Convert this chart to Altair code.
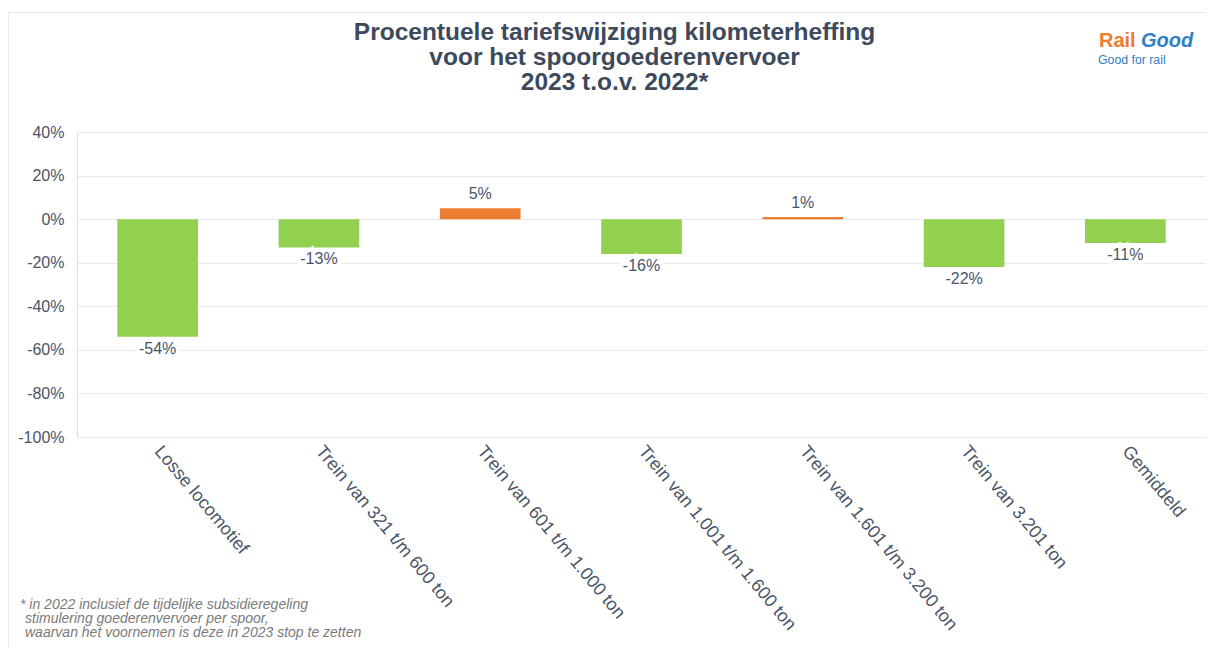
import altair as alt
import pandas as pd

categories = [
    "Losse locomotief",
    "Trein van 321 t/m 600 ton",
    "Trein van 601 t/m 1.000 ton",
    "Trein van 1.001 t/m 1.600 ton",
    "Trein van 1.601 t/m 3.200 ton",
    "Trein van 3.201 ton",
    "Gemiddeld",
]
values = [-54, -13, 5, -16, 1, -22, -11]
title_lines = [
    "Procentuele tariefswijziging kilometerheffing",
    "voor het spoorgoederenvervoer",
    "2023 t.o.v. 2022*",
]
footnote_first = ["* in 2022 inclusief de tijdelijke subsidieregeling"]
footnote_rest = [
    "stimulering goederenvervoer per spoor,",
    "waarvan het voornemen is deze in 2023 stop te zetten",
]
logo_a = "Rail"
logo_b = "Good"
logo_c = "Good for rail"
y_ticks = [-100, -80, -60, -40, -20, 0, 20, 40]

FONT = "Liberation Sans"
TXT = "#4a5568"
GREEN = "#92d050"
ORANGE = "#ed7d31"
BLUE = "#2f7fc8"
FRAME = "#e6e8ee"

df = pd.DataFrame({"cat": categories, "val": values})
df["label"] = [f"{v}%" for v in values]

x_enc = alt.X(
    "cat:N",
    sort=None,
    title=None,
    scale=alt.Scale(paddingInner=0.5, paddingOuter=0.25),
    axis=alt.Axis(
        labelAngle=50,
        labelAlign="left",
        labelBaseline="middle",
        labelPadding=11,
        labelFontSize=18,
        labelColor=TXT,
        labelFont=FONT,
        labelLimit=400,
        ticks=False,
        domain=False,
        grid=False,
    ),
)
y_enc = alt.Y(
    "val:Q",
    title=None,
    scale=alt.Scale(domain=[-100, 40], nice=False),
    axis=alt.Axis(
        values=y_ticks,
        labelExpr="datum.value + '%'",
        labelFontSize=16,
        labelColor=TXT,
        labelFont=FONT,
        labelPadding=13,
        ticks=False,
        domain=False,
        grid=True,
        gridColor="#e6e9ef",
        gridWidth=1,
    ),
)

base = alt.Chart(df)

bars = base.mark_bar().encode(
    x=x_enc,
    y=y_enc,
    y2=alt.datum(0),
    color=alt.condition(alt.datum.val > 0, alt.value(ORANGE), alt.value(GREEN)),
)

pos = base.transform_filter(alt.datum.val > 0)
neg = base.transform_filter(alt.datum.val <= 0)


def labels(src, dy):
    enc = dict(x=alt.X("cat:N", sort=None), y="val:Q", text="label:N")
    halo = src.mark_text(
        dy=dy, font=FONT, fontSize=16, color="white", stroke="white", strokeWidth=8
    ).encode(**enc)
    txt = src.mark_text(dy=dy, font=FONT, fontSize=16, color=TXT).encode(**enc)
    return halo + txt


pos_lab = labels(pos, -14)
neg_lab = labels(neg, 12)

one = pd.DataFrame({"k": [0]})
title = alt.Chart(one).mark_text(
    text=title_lines, font=FONT, fontSize=24.5, fontWeight="bold", color="#3d4a5c",
    align="center", baseline="alphabetic", lineHeight=25,
).encode(x=alt.value(537.5), y=alt.value(-92))
logo1 = alt.Chart(one).mark_text(
    text=logo_a, font=FONT, fontSize=20, fontWeight="bold", color=ORANGE,
    align="left", baseline="alphabetic",
).encode(x=alt.value(1022), y=alt.value(-85))
logo2 = alt.Chart(one).mark_text(
    text=logo_b, font=FONT, fontSize=20, fontWeight="bold", fontStyle="italic",
    color=BLUE, align="left", baseline="alphabetic",
).encode(x=alt.value(1064), y=alt.value(-85))
logo3 = alt.Chart(one).mark_text(
    text=logo_c, font=FONT, fontSize=12.3, color=BLUE,
    align="left", baseline="alphabetic",
).encode(x=alt.value(1021), y=alt.value(-68))
foot1 = alt.Chart(one).mark_text(
    text=footnote_first, font=FONT, fontSize=14, fontStyle="italic", color="#7a7a7a",
    align="left", baseline="alphabetic", lineHeight=14,
).encode(x=alt.value(-57), y=alt.value(477))
foot2 = alt.Chart(one).mark_text(
    text=footnote_rest, font=FONT, fontSize=14, fontStyle="italic", color="#7a7a7a",
    align="left", baseline="alphabetic", lineHeight=14,
).encode(x=alt.value(-52), y=alt.value(491))
frame_v = alt.Chart(one).mark_rule(color=FRAME, strokeWidth=1).encode(
    x=alt.value(-68.5), y=alt.value(-120), y2=alt.value(515)
)
frame_h = alt.Chart(one).mark_rule(color=FRAME, strokeWidth=1).encode(
    x=alt.value(-69), x2=alt.value(1130), y=alt.value(-119.5)
)

chart = (
    alt.layer(frame_v, frame_h, bars, pos_lab, neg_lab, title, logo1, logo2, logo3, foot1, foot2)
    .properties(
        width=1129,
        height=305,
        autosize=alt.AutoSizeParams(type="none"),
        padding={"left": 69, "top": 124, "right": 0, "bottom": 210},
    )
    .configure_view(stroke=None)
    .configure(background="white")
)

chart.save("out.html", embed_options={"renderer": "svg", "actions": False})
